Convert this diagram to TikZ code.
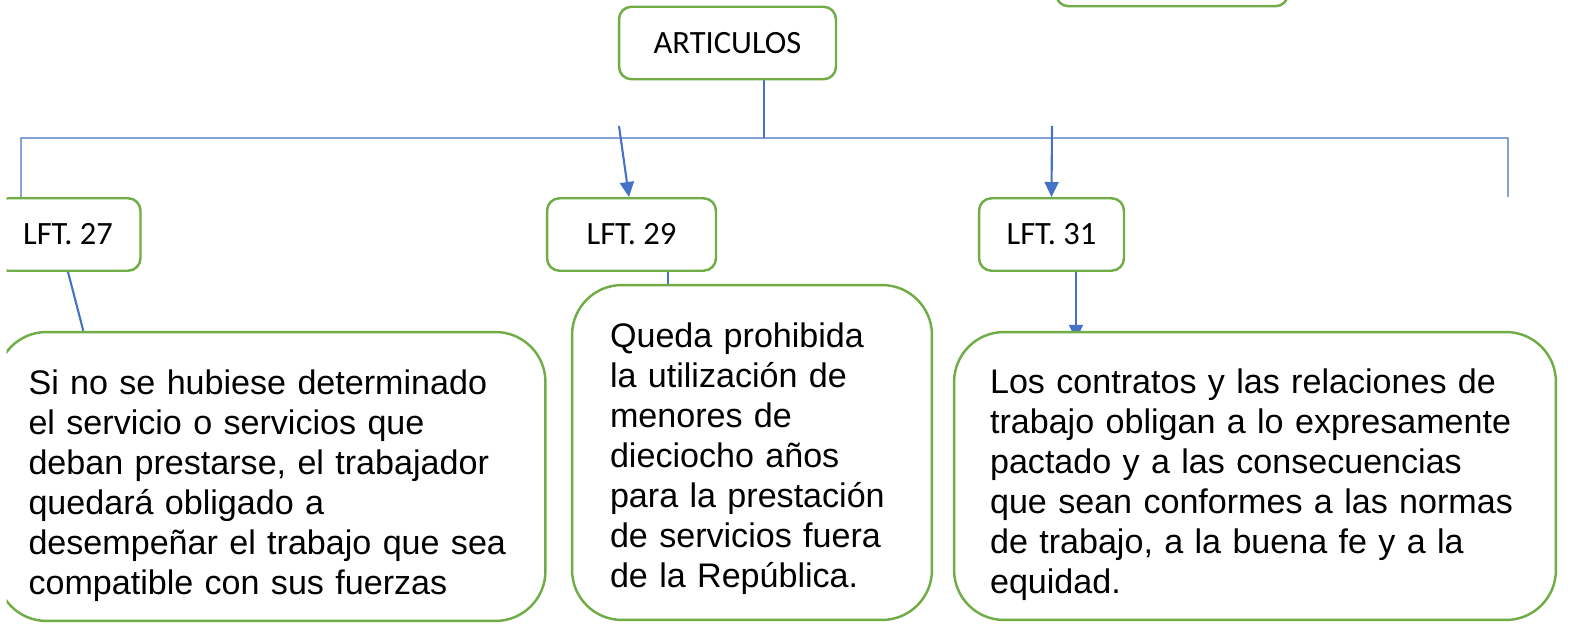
\documentclass[tikz,border=0pt]{standalone}
\usepackage{fontspec}
\setmainfont{Liberation Sans}
\newfontfamily\calibri{Carlito}
\usetikzlibrary{arrows.meta,backgrounds}
\definecolor{boxgreen}{HTML}{70AD47}
\definecolor{linkblue}{HTML}{4472C4}
\tikzset{
	label box/.style={draw=boxgreen, line width=1.4pt, fill=white, rounded corners=0.25cm,
		minimum height=1.45cm, inner sep=0pt, font=\calibri\fontsize{18.5}{21}\selectfont},
	text box/.style={draw=boxgreen, line width=1.4pt, fill=white, rounded corners=1cm,
		align=left, inner ysep=0pt, font=\fontsize{19.4}{22.76}\selectfont},
	tree/.style={draw=linkblue, line width=0.75pt},
	link/.style={draw=linkblue, line width=1.2pt},
	linkarrow/.style={link, -{Triangle[length=0.3cm,width=0.28cm]}}
}

\begin{document}
\begin{tikzpicture}[x=0.02cm, y=-0.02cm]
			%%%%% START %%%%%
			
			\useasboundingbox (0, 0) rectangle (1583, 624);
			\clip (6.5, 0) rectangle (1583, 624);
			
			\node[label box, minimum width=4.64cm] (top) at (1172, -30) {};
			\node[label box, minimum width=4.34cm] (art) at (727.5, 43) {ARTICULOS};
			
			\node[label box, minimum width=2.9cm] (lft27) at (68, 234.5) {LFT. 27};
			\node[label box, minimum width=3.38cm] (lft29) at (631.5, 234.5) {LFT. 29};
			\node[label box, minimum width=2.9cm] (lft31) at (1051.5, 234.5) {LFT. 31};
			
			\node[text box, text width=9.7cm, inner xsep=0.64cm, minimum height=5.78cm] (si) at (271, 476.5)
				{\rule{0pt}{24.4pt}Si no se hubiese determinado\\el servicio o servicios que\\deban prestarse, el trabajador\\quedará obligado a\\desempeñar el trabajo que sea\\compatible con sus fuerzas};
			\node[text box, text width=5.68cm, inner xsep=0.76cm, minimum height=6.7cm] (queda) at (752, 452.5)
				{\rule{0pt}{21pt}Queda prohibida\\la utilización de\\menores de\\dieciocho años\\para la prestación\\de servicios fuera\\de la República.};
			\node[text box, text width=10.6cm, inner xsep=0.72cm, minimum height=5.76cm] (los) at (1255, 476)
				{\rule{0pt}{24.4pt}Los contratos y las relaciones de\\trabajo obligan a lo expresamente\\pactado y a las consecuencias\\que sean conformes a las normas\\de trabajo, a la buena fe y a la\\equidad.};
			
			\coordinate (barL) at (21, 138);
			\coordinate (barR) at (1508, 138);
			\coordinate (endR) at (1508, 197);
			\coordinate (st29) at (619, 126);
			\coordinate (st31) at (1052, 126);
			
			\begin{pgfonlayer}{background}
				\draw[tree] ([xshift=0.73cm]art.south) -- ([xshift=0.73cm]art.south |- barL);
				\draw[tree] ([xshift=-0.94cm]lft27.north) -- (barL) -- (barR) -- (endR);
				
				\draw[linkarrow] (st29) -- ([xshift=-0.05cm]lft29.north);
				\draw[linkarrow] (st31) -- (lft31.north);
				
				\draw[link] (lft27.south) -- ([xshift=1.76cm]si.north west);
				\draw[link] ([xshift=0.73cm]lft29.south) -- ([xshift=0.73cm]lft29.south |- queda.north);
				\draw[linkarrow, shorten >=-0.18cm] ([xshift=0.49cm]lft31.south) -- ([xshift=0.49cm]lft31.south |- los.north);
			\end{pgfonlayer}
			
			%%%%% END %%%%%
\end{tikzpicture}
\end{document}
